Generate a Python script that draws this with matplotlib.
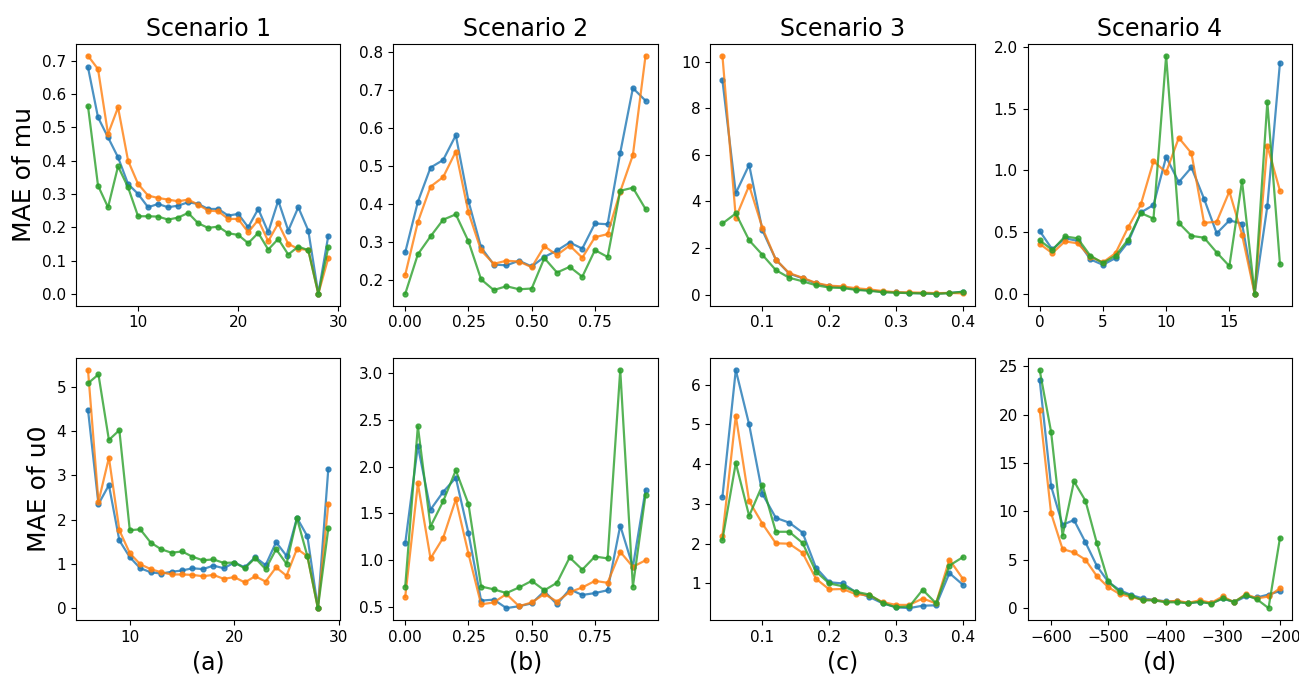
import numpy as np
import matplotlib
matplotlib.use("Agg")
import matplotlib.pyplot as plt

# ------ data ------
x_a_mu = list(range(5, 30))
a_mu_blue = [0.68, 0.53, 0.47, 0.41, 0.33, 0.30, 0.26, 0.27, 0.26, 0.265, 0.275, 0.27, 0.255, 0.255, 0.235,
             0.24, 0.20, 0.255, 0.185, 0.28, 0.19, 0.26, 0.19, 0.0, 0.175]
a_mu_orange = [0.715, 0.675, 0.48, 0.56, 0.40, 0.33, 0.295, 0.288, 0.283, 0.278, 0.283, 0.268, 0.25, 0.248, 0.225,
               0.225, 0.185, 0.222, 0.158, 0.212, 0.15, 0.135, 0.132, 0.0, 0.108]
a_mu_green = [0.563, 0.325, 0.26, 0.383, 0.32, 0.233, 0.233, 0.232, 0.223, 0.229, 0.243, 0.212, 0.198, 0.202, 0.182,
              0.177, 0.152, 0.183, 0.133, 0.165, 0.118, 0.142, 0.131, 0.0, 0.14]

x_b = [round(0.05 * i, 2) for i in range(20)]
b_mu_blue = [0.272, 0.405, 0.495, 0.515, 0.58, 0.407, 0.285, 0.24, 0.238, 0.25, 0.235, 0.26, 0.277, 0.298, 0.282,
             0.348, 0.346, 0.534, 0.704, 0.671]
b_mu_orange = [0.213, 0.352, 0.445, 0.47, 0.537, 0.377, 0.277, 0.242, 0.25, 0.248, 0.233, 0.288, 0.265, 0.29, 0.258,
               0.312, 0.32, 0.432, 0.528, 0.789]
b_mu_green = [0.163, 0.267, 0.314, 0.358, 0.372, 0.301, 0.201, 0.173, 0.183, 0.175, 0.177, 0.257, 0.219, 0.234,
              0.208, 0.278, 0.26, 0.434, 0.442, 0.386]

x_c = [round(0.04 + 0.02 * i, 2) for i in range(19)]
c_mu_blue = [9.2, 4.35, 5.57, 2.75, 1.5, 0.9, 0.7, 0.48, 0.35, 0.32, 0.22, 0.18, 0.12, 0.09, 0.07, 0.05, 0.04,
             0.07, 0.12]
c_mu_orange = [10.25, 3.3, 4.68, 2.85, 1.5, 0.92, 0.72, 0.5, 0.38, 0.35, 0.27, 0.22, 0.15, 0.1, 0.09, 0.08, 0.06,
               0.07, 0.05]
c_mu_green = [3.05, 3.48, 2.33, 1.7, 1.05, 0.72, 0.57, 0.4, 0.3, 0.28, 0.2, 0.16, 0.1, 0.08, 0.06, 0.05, 0.03,
              0.06, 0.12]

x_d_mu = list(range(20))
d_mu_blue = [0.51, 0.36, 0.45, 0.43, 0.28, 0.235, 0.29, 0.42, 0.66, 0.72, 1.11, 0.905, 1.025, 0.77, 0.49, 0.595,
             0.57, 0.0, 0.71, 1.875]
d_mu_orange = [0.405, 0.33, 0.425, 0.41, 0.3, 0.255, 0.33, 0.54, 0.725, 1.075, 0.985, 1.265, 1.14, 0.575, 0.585,
               0.83, 0.48, 0.0, 1.2, 0.835]
d_mu_green = [0.435, 0.355, 0.465, 0.45, 0.31, 0.25, 0.31, 0.44, 0.655, 0.61, 1.93, 0.575, 0.47, 0.455, 0.335,
              0.225, 0.915, 0.0, 1.555, 0.24]

x_a_u0 = list(range(6, 30))
a_u0_blue = [4.48, 2.35, 2.78, 1.53, 1.15, 0.9, 0.81, 0.78, 0.82, 0.85, 0.9, 0.88, 0.96, 0.9, 1.03, 0.92, 1.15,
             0.97, 1.49, 1.18, 2.04, 1.62, 0.0, 3.15]
a_u0_orange = [5.38, 2.4, 3.4, 1.76, 1.24, 0.99, 0.88, 0.81, 0.76, 0.76, 0.75, 0.72, 0.75, 0.66, 0.7, 0.58, 0.72,
               0.6, 0.92, 0.73, 1.34, 1.17, 0.0, 2.35]
a_u0_green = [5.08, 5.28, 3.8, 4.02, 1.76, 1.78, 1.48, 1.33, 1.25, 1.28, 1.16, 1.08, 1.1, 1.02, 1.03, 0.9, 1.13,
              0.88, 1.33, 1.0, 2.03, 1.17, 0.0, 1.8]

b_u0_blue = [1.18, 2.22, 1.54, 1.73, 1.88, 1.29, 0.57, 0.58, 0.49, 0.51, 0.54, 0.67, 0.53, 0.69, 0.63, 0.65, 0.68,
             1.37, 0.93, 1.75]
b_u0_orange = [0.61, 1.82, 1.02, 1.24, 1.65, 1.07, 0.53, 0.55, 0.64, 0.51, 0.55, 0.64, 0.56, 0.66, 0.71, 0.78,
               0.76, 1.09, 0.93, 1.0]
b_u0_green = [0.72, 2.43, 1.36, 1.63, 1.96, 1.6, 0.72, 0.69, 0.65, 0.71, 0.78, 0.68, 0.76, 1.03, 0.9, 1.04, 1.02,
              3.03, 0.72, 1.7]

c_u0_blue = [3.18, 6.37, 5.0, 3.25, 2.65, 2.53, 2.28, 1.4, 1.03, 1.0, 0.78, 0.66, 0.5, 0.4, 0.38, 0.44, 0.45,
             1.26, 0.97]
c_u0_orange = [2.2, 5.22, 3.07, 2.5, 2.01, 2.0, 1.77, 1.12, 0.85, 0.86, 0.73, 0.7, 0.53, 0.46, 0.46, 0.62, 0.5,
               1.6, 1.12]
c_u0_green = [2.1, 4.03, 2.7, 3.48, 2.3, 2.3, 2.02, 1.3, 1.0, 0.93, 0.79, 0.72, 0.51, 0.4, 0.42, 0.84, 0.5, 1.45,
              1.66]

x_d_u0 = list(range(-620, -199, 20))
d_u0_blue = [23.6, 12.6, 8.6, 9.1, 6.8, 4.35, 2.7, 1.85, 1.35, 1.0, 0.85, 0.7, 0.7, 0.5, 0.65, 0.5, 1.0, 0.6, 1.2,
             1.1, 1.4, 1.75]
d_u0_orange = [20.5, 9.8, 6.1, 5.75, 5.0, 3.3, 2.15, 1.45, 1.15, 0.85, 0.85, 0.65, 0.75, 0.55, 0.8, 0.55, 1.2, 0.6,
               1.45, 1.0, 1.2, 2.05]
d_u0_green = [24.6, 18.2, 7.5, 13.1, 11.1, 6.7, 2.75, 1.65, 1.3, 0.8, 0.8, 0.6, 0.6, 0.5, 0.65, 0.45, 1.0, 0.65,
              1.35, 0.9, 0.0, 7.25]

titles = ["Scenario 1", "Scenario 2", "Scenario 3", "Scenario 4"]
sub_labels = ["(a)", "(b)", "(c)", "(d)"]
row_labels = ["MAE of mu", "MAE of u0"]

panels = [
    [(x_a_mu, a_mu_blue, a_mu_orange, a_mu_green),
     (x_b, b_mu_blue, b_mu_orange, b_mu_green),
     (x_c, c_mu_blue, c_mu_orange, c_mu_green),
     (x_d_mu, d_mu_blue, d_mu_orange, d_mu_green)],
    [(x_a_u0, a_u0_blue, a_u0_orange, a_u0_green),
     (x_b, b_u0_blue, b_u0_orange, b_u0_green),
     (x_c, c_u0_blue, c_u0_orange, c_u0_green),
     (x_d_u0, d_u0_blue, d_u0_orange, d_u0_green)],
]
colors = ["tab:blue", "tab:orange", "tab:green"]

# ------ plotting ------
fig, axes = plt.subplots(2, 4, figsize=(12.99, 6.75), dpi=100)
fig.subplots_adjust(left=0.0585, right=0.9946, top=0.935, bottom=0.0815, wspace=0.2, hspace=0.2)

for r in range(2):
    for c in range(4):
        ax = axes[r][c]
        x, *series = panels[r][c]
        for y, col in zip(series, colors):
            ax.plot(x, y, marker="o", markersize=3.5, linewidth=1.6, color=col, alpha=0.8)
        ax.tick_params(labelsize=11)
        if r == 0:
            ax.set_title(titles[c], fontsize=17)
        else:
            ax.set_xlabel(sub_labels[c], fontsize=17)
        if c == 0:
            ax.set_ylabel(row_labels[r], fontsize=18)

axes[1][1].set_xticks([0.0, 0.25, 0.5, 0.75])
axes[0][1].set_xticks([0.0, 0.25, 0.5, 0.75])

plt.savefig("out.png")
